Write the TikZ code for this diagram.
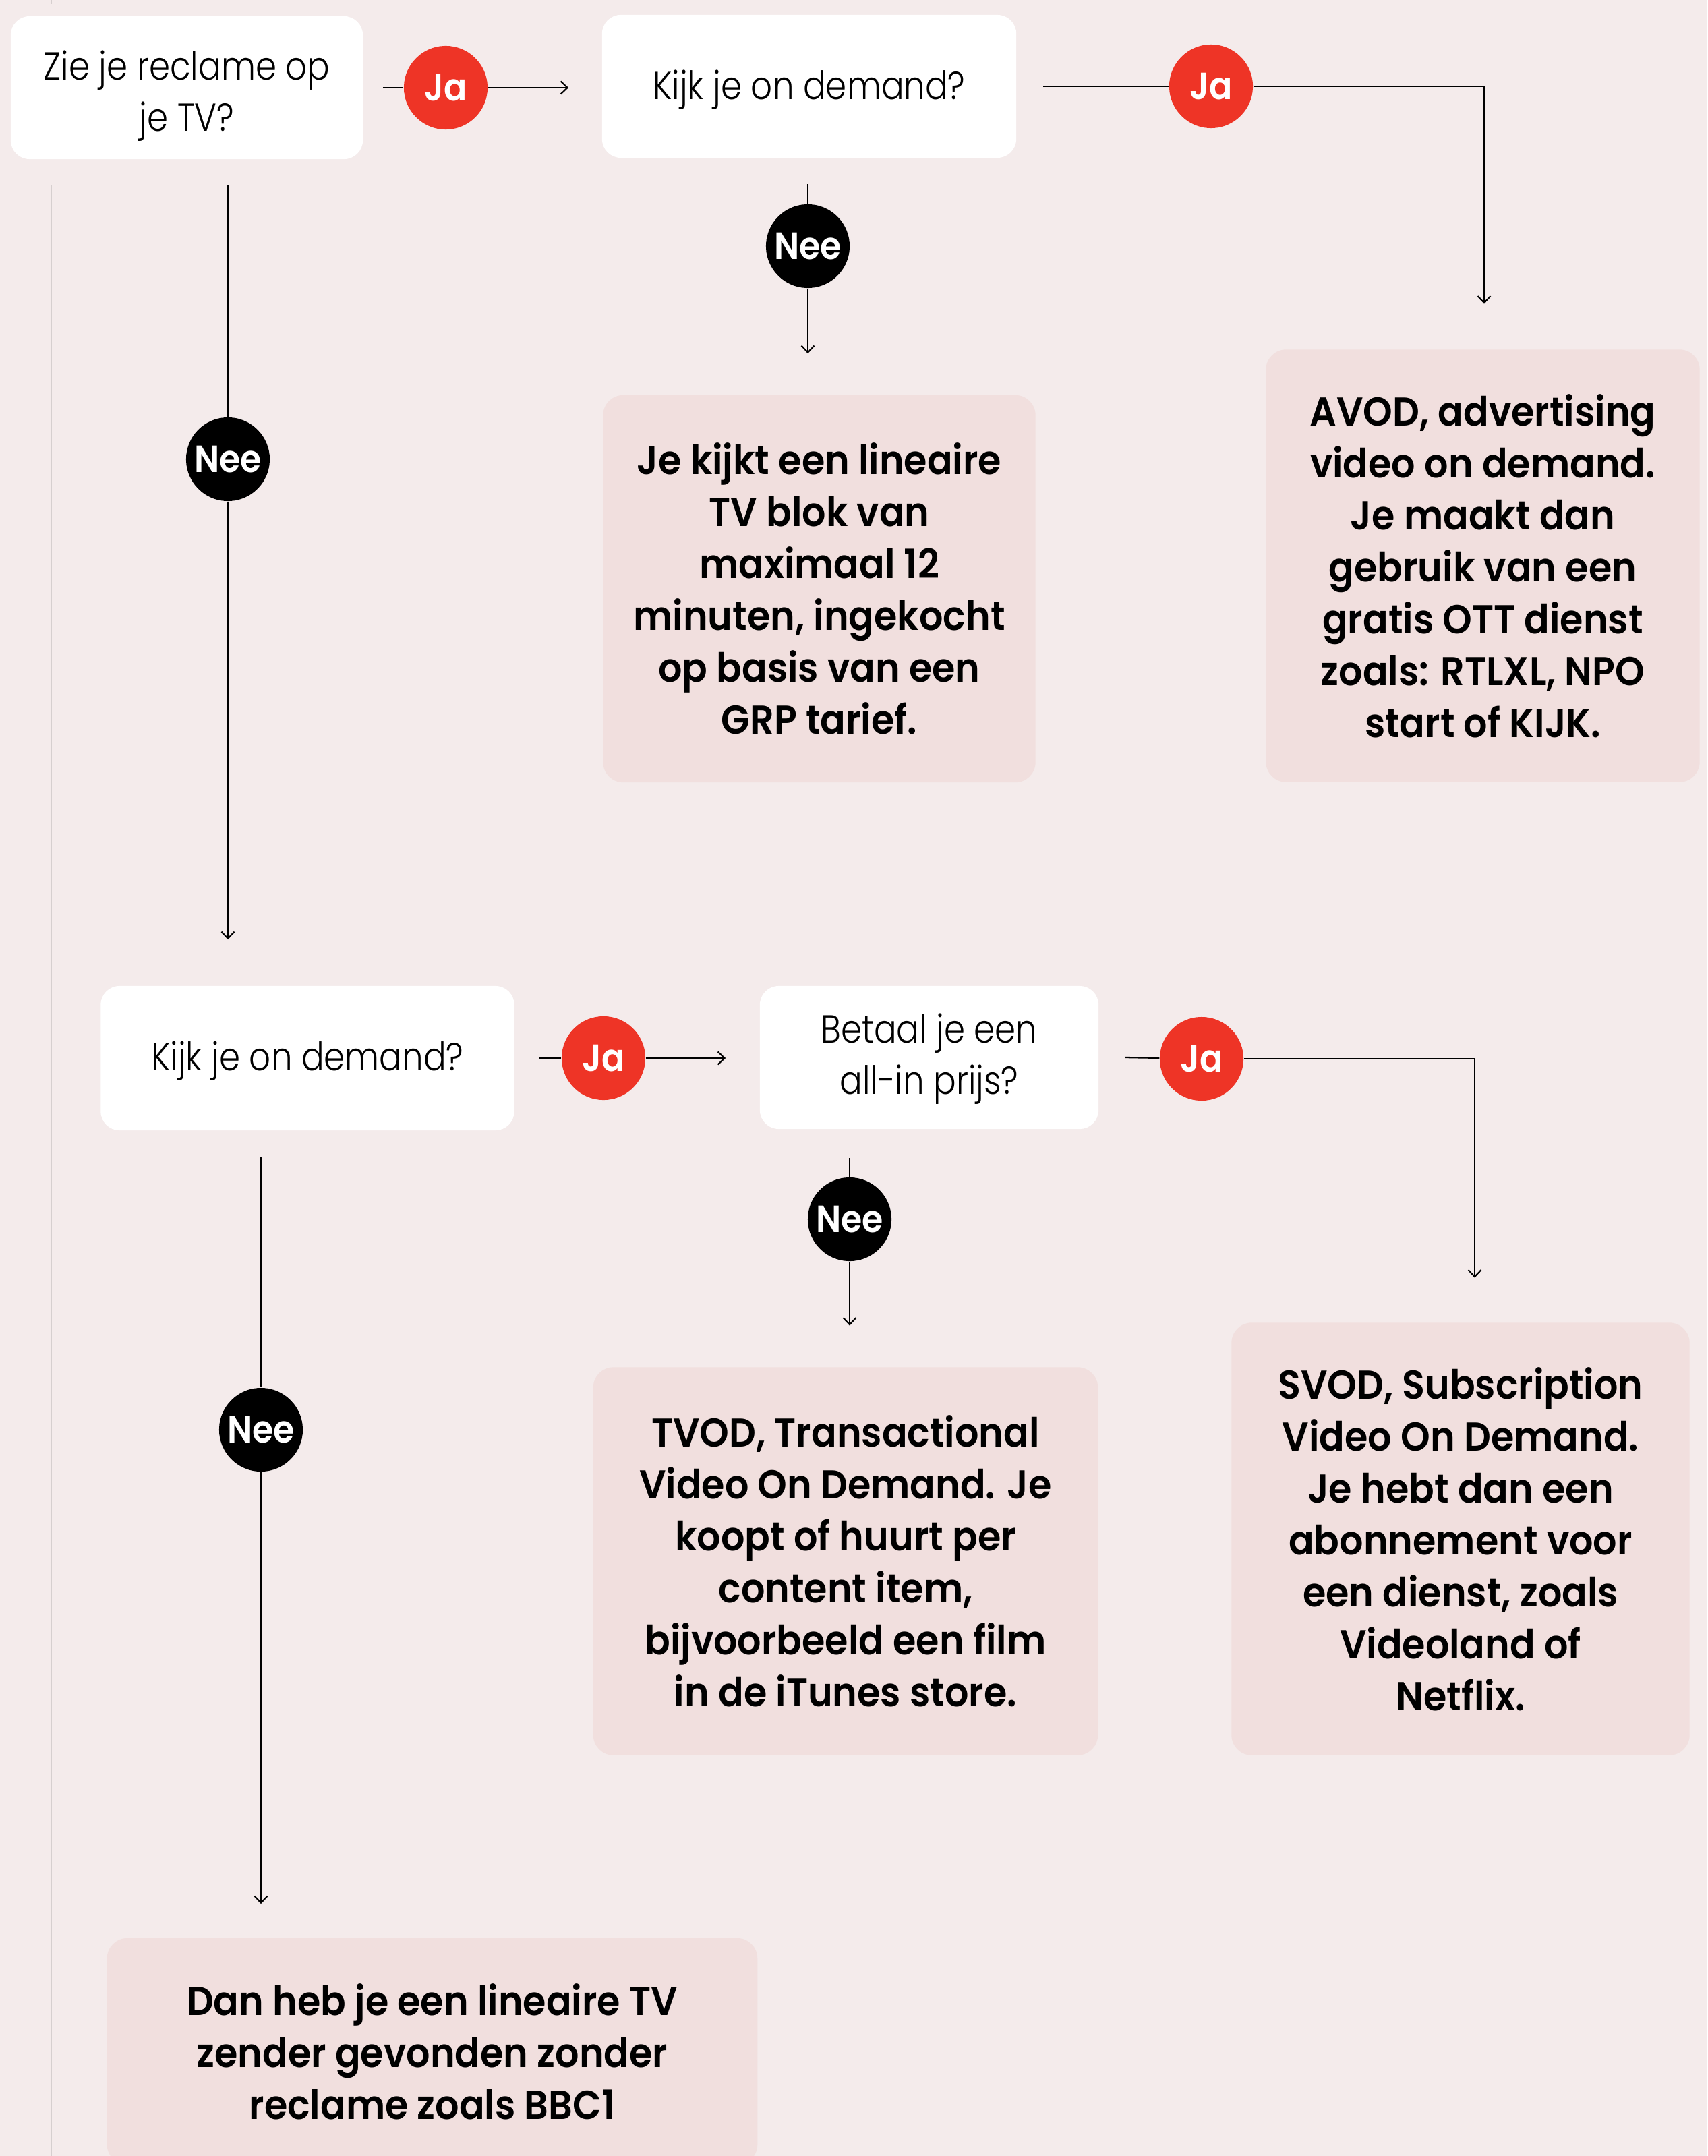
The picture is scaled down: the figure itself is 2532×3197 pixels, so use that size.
\documentclass[tikz,border=0pt]{standalone}
\usepackage{fontspec}
\setmainfont{Poppins}
\newfontfamily\qfont[FakeStretch=0.86]{Poppins Light}
\newfontfamily\rfont[FakeStretch=0.93]{Poppins SemiBold}
\newfontfamily\bubfont[FakeStretch=0.9]{Poppins SemiBold}
\usetikzlibrary{calc,arrows.meta}
\definecolor{bgc}{HTML}{F4EBEB}
\definecolor{resc}{HTML}{F1DFDE}
\definecolor{redc}{HTML}{EE3426}
\definecolor{grayl}{HTML}{D6CFCF}
\tikzset{
  qbox/.style={rectangle, rounded corners=0.28cm, fill=white, inner sep=0pt},
  qtext/.style={inner sep=0pt, align=center, font=\qfont\fontsize{16.5}{21.6}\selectfont},
  rbox/.style={rectangle, rounded corners=0.3cm, fill=resc, inner sep=0pt, align=center,
    font=\rfont\fontsize{17}{21.9}\selectfont},
  bub/.style={circle, inner sep=0pt, minimum size=1.24cm, text=white,
    font=\bubfont\fontsize{16}{16}\selectfont},
  yes/.style={bub, fill=redc},
  no/.style={bub, fill=black},
  ln/.style={draw=black, line width=0.65pt},
  arr/.style={ln, -{Straight Barb[length=0.1cm,width=0.19cm,line width=0.6pt]}},
}
\begin{document}
\begin{tikzpicture}[x=0.01cm,y=-0.01cm]
\useasboundingbox (0,0) rectangle (2532,3197);
\fill[bgc] (0,0) rectangle (2532,3197);
\draw[grayl, line width=0.6pt] (76,0) -- (76,6);
\draw[grayl, line width=0.6pt] (76,274) -- (76,3197);

% question boxes
\node[qbox, minimum width=5.22cm, minimum height=2.12cm] (b1) at (277,130) {};
\node[qtext] (b1t) at ($(b1.center)+(0,12)$) {Zie je reclame op\\je TV?};
\node[qbox, minimum width=6.14cm, minimum height=2.12cm] (b2) at (1200,128) {};
\node[qtext] (b2t) at ($(b2.center)+(0,5)$) {Kijk je on demand?};
\node[qbox, minimum width=6.13cm, minimum height=2.14cm] (b3) at (456,1569) {};
\node[qtext] (b3t) at ($(b3.center)+(0,4)$) {Kijk je on demand?};
\node[qbox, minimum width=5.02cm, minimum height=2.12cm] (b4) at (1378,1568) {};
\node[qtext] (b4t) at ($(b4.center)+(0,2)$) {Betaal je een\\all-in prijs?};

% result boxes
\node[rbox, minimum width=6.41cm, minimum height=5.74cm] (resA) at (1215,873) {Je kijkt een lineaire\\TV blok van\\maximaal 12\\minuten, ingekocht\\op basis van een\\GRP tarief.};
\node[rbox, minimum width=6.43cm, minimum height=6.41cm] (resB) at (2199,839) {AVOD, advertising\\video on demand.\\Je maakt dan\\gebruik van een\\gratis OTT dienst\\zoals: RTLXL, NPO\\start of KIJK.};
\node[rbox, minimum width=6.79cm, minimum height=6.41cm] (resC) at (2166,2282) {SVOD, Subscription\\Video On Demand.\\Je hebt dan een\\abonnement voor\\een dienst, zoals\\Videoland of\\Netflix.};
\node[rbox, minimum width=7.48cm, minimum height=5.75cm] (resD) at (1254,2315) {TVOD, Transactional\\Video On Demand. Je\\koopt of huurt per\\content item,\\bijvoorbeeld een film\\in de iTunes store.};
\node[rbox, minimum width=9.64cm, minimum height=3.36cm] (resE) at (641,3042) {Dan heb je een lineaire TV\\zender gevonden zonder\\reclame zoals BBC1};

% answer bubbles
\node[yes] (ja1) at (661,130) {Ja};
\node[yes] (ja2) at (1796,128) {Ja};
\node[no] (nee1) at (1198,365) {Nee};
\node[no] (neeL1) at (338,681) {Nee};
\node[yes] (ja3) at (895,1569) {Ja};
\node[yes] (ja4) at (1782,1570) {Ja};
\node[no] (nee2) at (1260,1808) {Nee};
\node[no] (neeL2) at (387,2120) {Nee};

% connectors
\draw[ln] ($(b1.east)+(29,0)$) -- (ja1);
\draw[arr] (ja1) -- ($(ja1 -| b2.west)+(-49,0)$);
\draw[ln] ($(b2.east)+(39,0)$) -- (ja2);
\draw[arr] (ja2) -| ($(resB.north)+(2,-67)$);
\draw[ln] ($(nee1 |- b2.south)+(0,38)$) -- (nee1);
\draw[arr] (nee1) -- ($(nee1 |- resA.north)+(0,-61)$);
\draw[ln] ($(neeL1 |- b1.south)+(0,38)$) -- (neeL1);
\draw[arr] (neeL1) -- ($(neeL1 |- b3.north)+(0,-68)$);
\draw[ln] ($(b3.east)+(37,0)$) -- (ja3);
\draw[arr] (ja3) -- ($(ja3 -| b4.west)+(-50,0)$);
\draw[ln] ($(b4.east)+(39,0)$) -- (ja4);
\draw[arr] (ja4) -| ($(resC.north)+(21,-66)$);
\draw[ln] ($(nee2 |- b4.south)+(0,42)$) -- (nee2);
\draw[arr] (nee2) -- ($(nee2 |- resD.north)+(0,-61)$);
\draw[ln] ($(neeL2 |- b3.south)+(0,39)$) -- (neeL2);
\draw[arr] (neeL2) -- ($(neeL2 |- resE.north)+(0,-50)$);
\end{tikzpicture}
\end{document}
